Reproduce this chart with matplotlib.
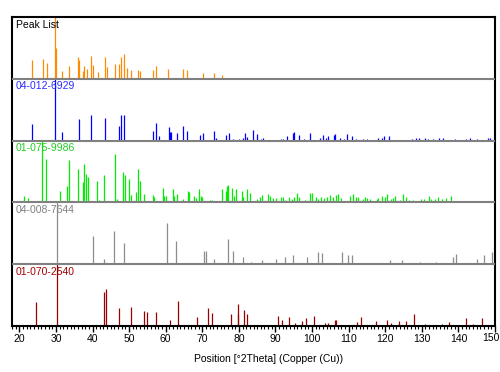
import matplotlib
matplotlib.use('Agg')
import matplotlib.pyplot as plt
from matplotlib.ticker import MultipleLocator, FixedLocator

## stick patterns: position (deg 2theta) and relative intensity (%)

peak_pos = [23.4, 26.6, 27.7, 29.8, 30.0, 31.7, 33.5, 36.1, 36.3, 37.3, 37.8, 38.5,
            39.7, 40.2, 41.4, 43.4, 44.0, 46.1, 47.2, 47.8, 48.7, 49.3, 50.4, 52.5,
            53.1, 56.5, 57.4, 60.5, 64.6, 65.8, 70.3, 73.2, 75.3]
peak_int = [31, 32, 26, 100, 50, 13, 21, 35, 30, 13, 21, 16,
            37, 22, 11, 35, 20, 24, 24, 35, 41, 18, 15, 15,
            12, 15, 21, 16, 16, 15, 10, 10, 6]

blue_pos = [23.4, 29.8, 31.7, 36.2, 39.7, 43.4, 47.2, 47.8, 48.7, 56.5, 57.4, 58.3,
            60.9, 61.2, 61.5, 63.1, 64.6, 65.9, 69.3, 70.3, 73.1, 73.7, 76.4, 77.3,
            78.5, 80.1, 81.0, 81.7, 82.2, 83.8, 84.9, 86.0, 86.5, 91.5, 92.1, 93.2,
            94.7, 95.1, 96.5, 97.9, 99.4, 102.3, 102.9, 103.8, 104.3, 106.0, 106.2,
            107.6, 108.7, 109.6, 110.8, 112.0, 114.0, 115.1, 118.1, 119.0, 119.6,
            121.0, 127.4, 128.3, 129.2, 130.8, 131.7, 133.1, 134.7, 135.9, 139.0,
            142.1, 143.1, 145.1, 148.1, 148.6]
blue_int = [27, 100, 14, 35, 42, 37, 24, 42, 42, 16, 29, 8,
            22, 14, 14, 13, 23, 16, 9, 13, 15, 5, 9, 13,
            2, 2, 5, 13, 6, 18, 11, 2, 5, 2, 2, 8,
            13, 14, 9, 2, 12, 4, 9, 4, 8, 9, 11,
            5, 2, 11, 8, 2, 2, 2, 5, 5, 8,
            8, 2, 5, 4, 5, 2, 2, 5, 4, 2,
            2, 5, 2, 5, 5]

green_pos = [19.1, 21.3, 22.5, 26.3, 27.4, 31.2, 33.0, 33.6, 36.1, 37.3, 37.8, 38.3,
             38.9, 41.3, 41.7, 43.1, 46.1, 46.6, 48.4, 48.8, 50.1, 50.4, 51.9, 52.5,
             53.0, 54.1, 56.4, 56.8, 59.2, 59.5, 60.2, 61.9, 62.3, 63.2, 64.8, 66.0,
             66.4, 67.7, 68.2, 69.1, 69.6, 70.0, 72.1, 72.7, 75.3, 76.5, 76.8, 77.1,
             78.2, 78.7, 79.3, 80.8, 81.2, 82.2, 83.0, 84.2, 85.0, 85.8, 86.4, 88.0,
             88.5, 89.4, 90.1, 91.4, 92.1, 92.6, 93.7, 94.4, 95.1, 95.9, 96.5, 98.1,
             99.4, 99.9, 101.0, 101.5, 102.4, 103.3, 104.1, 105.0, 105.8, 106.5,
             107.2, 107.8, 110.4, 111.3, 111.9, 112.6, 114.0, 114.5, 114.9, 115.8,
             117.7, 118.1, 119.0, 119.9, 120.6, 121.7, 122.2, 122.8, 124.0, 124.9,
             125.7, 126.6, 127.7, 129.9, 130.5, 132.0, 132.6, 133.6, 134.5, 135.4,
             136.6, 137.9, 139.5]
green_int = [3, 11, 7, 100, 71, 19, 26, 69, 54, 33, 62, 46,
             41, 35, 4, 44, 78, 5, 49, 44, 38, 12, 16, 54,
             34, 14, 12, 9, 24, 10, 11, 21, 10, 14, 5, 19,
             16, 11, 7, 21, 11, 9, 4, 4, 22, 19, 26, 28,
             23, 11, 22, 19, 8, 21, 15, 3, 6, 8, 12, 14,
             10, 7, 7, 8, 8, 4, 8, 5, 8, 15, 8, 4,
             15, 15, 8, 5, 8, 7, 8, 12, 8, 12,
             14, 7, 10, 14, 8, 8, 5, 8, 7, 6,
             5, 7, 10, 8, 14, 5, 7, 11, 4, 14,
             8, 4, 4, 5, 5, 10, 5, 5, 8, 5,
             7, 10, 2]

gray_pos = [30.4, 40.2, 43.1, 45.8, 48.7, 60.4, 62.7, 70.5, 71.1, 73.2, 76.9, 78.4,
            81.0, 83.2, 86.2, 90.1, 92.7, 94.7, 98.6, 101.7, 102.6, 108.3, 109.9,
            110.8, 112.6, 121.3, 123.1, 124.5, 129.5, 133.8, 138.4, 139.3, 145.0,
            147.0, 149.2]
gray_int = [100, 46, 9, 54, 35, 66, 38, 22, 22, 9, 41, 22,
            11, 3, 7, 9, 12, 14, 11, 19, 18, 19, 14,
            14, 2, 7, 2, 7, 4, 4, 11, 16, 8,
            14, 19]

red_pos = [24.6, 30.4, 43.1, 43.7, 47.2, 50.4, 54.0, 54.8, 57.4, 61.2, 63.3, 68.6,
           71.7, 72.6, 77.8, 79.7, 79.9, 81.4, 82.2, 90.6, 91.9, 93.7, 95.3, 97.2,
           98.3, 100.5, 103.5, 104.4, 106.3, 106.5, 112.2, 113.4, 117.5, 120.5,
           121.5, 123.7, 125.7, 127.9, 130.8, 135.6, 137.5, 142.1, 143.9, 146.4]
red_int = [38, 100, 55, 60, 29, 31, 24, 22, 22, 10, 40, 14,
           29, 21, 19, 19, 36, 26, 19, 16, 9, 14, 5, 8,
           12, 16, 5, 5, 10, 10, 7, 14, 8, 10,
           4, 8, 8, 19, 3, 3, 7, 12, 3, 12]

names = ['Peak List', '04-012-6929', '01-075-9986', '04-008-7644', '01-070-2540']
bar_colors = ['#ff8c00', '#0000ff', '#00ee00', '#8c8c8c', '#990000']
text_colors = ['#000000', '#2b2bff', '#22cc22', '#808080', '#a00000']
series = [(peak_pos, peak_int), (blue_pos, blue_int), (green_pos, green_int),
          (gray_pos, gray_int), (red_pos, red_int)]
xticks = list(range(20, 151, 10))

plt.rcParams['font.family'] = ['Liberation Sans', 'DejaVu Sans']

fig = plt.figure(figsize=(5.0, 3.72), dpi=100)
ax = fig.add_axes([0.024, 0.124, 0.966, 0.830])

n = len(series)
for i, (pos, inten) in enumerate(series):
    base = n - 1 - i  # top panel first
    ax.vlines(pos, base, [base + v / 100.0 for v in inten],
              colors=bar_colors[i], linewidth=0.9)
    ax.text(19.1, base + 0.96, names[i], color=text_colors[i], fontsize=7.5,
            va='top', ha='left')
    if base > 0:
        ax.axhline(base, color='#808080', linewidth=1.5, zorder=3)

ax.set_xlim(18, 150)
ax.set_ylim(0, n)
ax.set_yticks([])
# last label (150) is drawn by hand, nudged left so it stays on the figure
ax.xaxis.set_major_locator(FixedLocator(xticks))
ax.set_xticklabels([str(t) for t in xticks[:-1]] + [''])
ax.annotate(str(xticks[-1]), xy=(xticks[-1], 0), xycoords=('data', 'axes fraction'),
            xytext=(-3, -5), textcoords='offset points', ha='center', va='top',
            fontsize=7.5, annotation_clip=False)
ax.xaxis.set_minor_locator(MultipleLocator(1))
ax.tick_params(axis='x', which='major', length=4, width=1, labelsize=7.5, pad=2)
ax.tick_params(axis='x', which='minor', length=2, width=0.8)
for s in ax.spines.values():
    s.set_linewidth(1.5)
    s.set_color('black')
ax.set_xlabel('Position [°2Theta] (Copper (Cu))', fontsize=7.5, labelpad=6)
ax.xaxis.set_label_coords(0.532, -0.09)

plt.savefig('out.png', dpi=100)
